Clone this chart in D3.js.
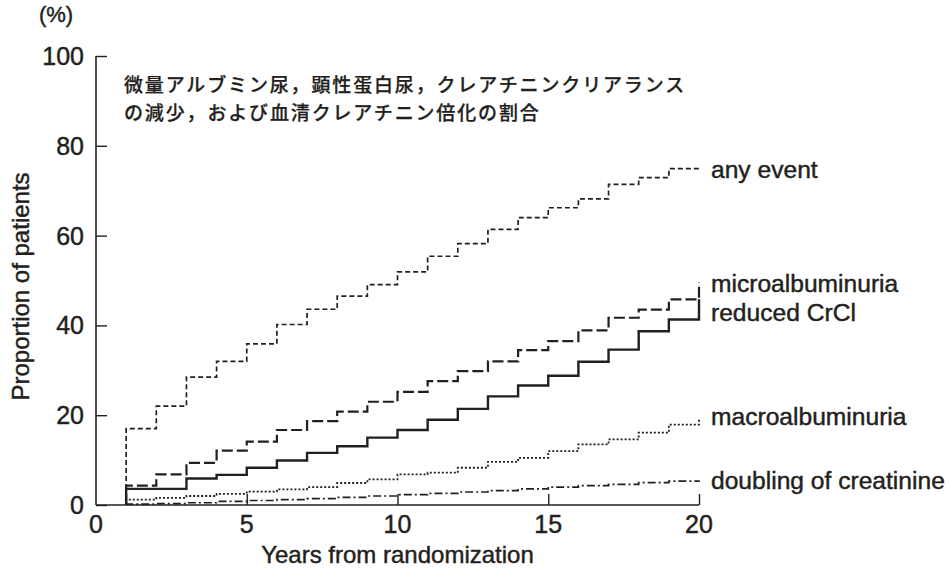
<!DOCTYPE html>
<html>
<head>
<meta charset="utf-8">
<script src="https://cdn.jsdelivr.net/npm/d3@7"></script>
<style>
  html, body { margin: 0; padding: 0; background: #fff; }
  svg { display: block; }
  .lat { font-family: "Liberation Sans", Arial, Helvetica, sans-serif; fill: #231f20; stroke: #231f20; stroke-width: 0.45px; }
  .jp { font-family: "Noto Sans CJK JP", sans-serif; fill: #231f20; stroke: #231f20; stroke-width: 0.25px; }
</style>
</head>
<body>
<svg id="chart" width="951" height="571"></svg>
<script>
// Cumulative proportion of patients (%) at each year from randomization
const years = [1, 2, 3, 4, 5, 6, 7, 8, 9, 10, 11, 12, 13, 14, 15, 16, 17, 18, 19, 20];
const anyEvent = [17, 22, 28.5, 32, 35.9, 40.2, 43.6, 46.5, 49.1, 51.9, 55.4, 58.2, 61.4, 64.0, 66.2, 68.2, 71.4, 72.9, 74.9, 74.9];
const microalbuminuria = [4.3, 6.8, 9.4, 12.1, 14.1, 16.7, 18.7, 20.8, 23.0, 25.2, 27.6, 29.8, 32.0, 34.5, 36.5, 38.9, 41.7, 43.5, 45.8, 49.6];
const reducedCrCl = [3.6, 3.6, 5.9, 6.7, 8.3, 9.9, 11.6, 13.1, 15.0, 16.7, 19.0, 21.4, 24.2, 26.6, 28.8, 31.9, 34.6, 38.7, 41.3, 45.8];
const macroalbuminuria = [1.2, 1.6, 2.0, 2.5, 3.0, 3.5, 4.0, 4.9, 5.7, 6.8, 7.2, 8.3, 9.6, 10.5, 12.0, 13.5, 14.6, 16.1, 17.9, 19.4];
const doublingCreatinine = [0.2, 0.3, 0.5, 0.8, 1.0, 1.2, 1.4, 1.7, 2.0, 2.3, 2.6, 2.9, 3.2, 3.6, 4.0, 4.3, 4.6, 5.0, 5.3, 5.5];

const seriesNames = ["any event", "microalbuminuria", "reduced CrCl", "macroalbuminuria", "doubling of creatinine"];
const seriesValues = [anyEvent, microalbuminuria, reducedCrCl, macroalbuminuria, doublingCreatinine];
const seriesDash = ["5,3", "11,4", null, "2,2", "8,3,2,3"];
const seriesWidth = [1.7, 2.2, 2.4, 1.8, 1.7];
// value each label sits beside, plus a small nudge so the middle pair stays apart
const labelAt = [anyEvent[19], microalbuminuria[19], reducedCrCl[18], macroalbuminuria[19], doublingCreatinine[19]];
const labelNudge = [0, 1, -7, -2, 0];

const xTicks = [0, 5, 10, 15, 20];
const yTicks = [0, 20, 40, 60, 80, 100];

const noteLines = [
  "微量アルブミン尿，顕性蛋白尿，クレアチニンクリアランス",
  "の減少，および血清クレアチニン倍化の割合"
];

const svg = d3.select("#chart");
const margin = { left: 96, right: 252, top: 56, bottom: 66 };
const W = 951, H = 571;

const x = d3.scaleLinear().domain([0, 20]).range([margin.left, W - margin.right]);
const y = d3.scaleLinear().domain([0, 100]).range([H - margin.bottom, margin.top]);

const ink = "#231f20";

// axes with inward ticks
const yAxis = svg.append("g")
  .attr("transform", `translate(${x(0)},0)`)
  .call(d3.axisRight(y).tickValues(yTicks).tickSize(11).tickFormat(""));
const xAxis = svg.append("g")
  .attr("transform", `translate(0,${y(0)})`)
  .call(d3.axisTop(x).tickValues(xTicks.filter(d => d > 0)).tickSize(11).tickFormat(""));
[yAxis, xAxis].forEach(g => {
  g.select(".domain").attr("stroke", ink).attr("stroke-width", 1.6)
    .attr("d", g === yAxis ? `M0,${y(100)}V${y(0)}` : `M${x(0)},0H${x(20)}`);
  g.selectAll(".tick line").attr("stroke", ink).attr("stroke-width", 1.4);
});

// tick labels
svg.append("g").selectAll("text").data(yTicks).join("text")
  .attr("class", "lat")
  .attr("x", x(0) - 12)
  .attr("y", d => y(d))
  .attr("dy", "0.36em")
  .attr("text-anchor", "end")
  .attr("font-size", 25)
  .text(d => d);

svg.append("g").selectAll("text").data(xTicks).join("text")
  .attr("class", "lat")
  .attr("x", d => x(d))
  .attr("y", y(0) + 28)
  .attr("text-anchor", "middle")
  .attr("font-size", 25)
  .text(d => d);

svg.append("text").attr("class", "lat")
  .attr("x", 56).attr("y", 22)
  .attr("text-anchor", "middle").attr("font-size", 22)
  .text("(%)");

svg.append("text").attr("class", "lat")
  .attr("transform", `translate(29,${(y(0) + y(100)) / 2 + 6}) rotate(-90)`)
  .attr("text-anchor", "middle").attr("font-size", 24)
  .text("Proportion of patients");

svg.append("text").attr("class", "lat")
  .attr("x", x(10)).attr("y", H - 8)
  .attr("text-anchor", "middle").attr("font-size", 24)
  .text("Years from randomization");

// note in Japanese
svg.append("g").selectAll("text").data(noteLines).join("text")
  .attr("class", "jp")
  .attr("x", 124)
  .attr("y", (d, i) => 92 + i * 28)
  .attr("font-size", 19)
  .attr("font-weight", 500)
  .attr("letter-spacing", 1.85)
  .text(d => d);

// step curves
const line = d3.line()
  .x(d => x(d[0]))
  .y(d => y(d[1]))
  .curve(d3.curveStepAfter);

seriesValues.forEach((vals, k) => {
  const pts = [[years[0], 0]].concat(years.map((yr, i) => [yr, vals[i]]));
  svg.append("path")
    .datum(pts)
    .attr("fill", "none")
    .attr("stroke", ink)
    .attr("stroke-width", seriesWidth[k])
    .attr("stroke-dasharray", seriesDash[k])
    .attr("d", line);
});

// series labels at the right end
svg.append("g").selectAll("text").data(seriesNames).join("text")
  .attr("class", "lat")
  .attr("x", x(20) + 12)
  .attr("y", (d, i) => y(labelAt[i]) + labelNudge[i])
  .attr("dy", "0.36em")
  .attr("font-size", 24.6)
  .text(d => d);
</script>
</body>
</html>
